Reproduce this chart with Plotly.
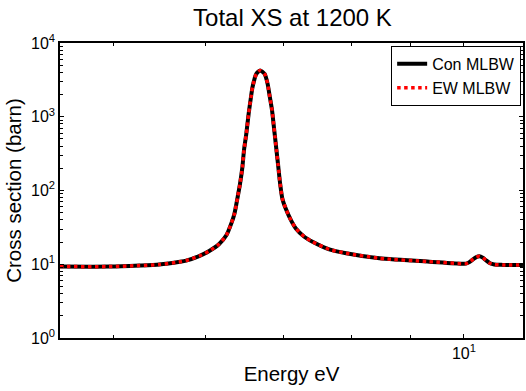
import plotly.graph_objects as go

# Energy (eV) and total cross section (barn)
energy = [4.494, 4.96, 5.26, 5.47, 5.70, 5.77, 5.92, 6.04, 6.16, 6.25, 6.31, 6.35,
          6.39, 6.42, 6.45, 6.47, 6.50, 6.53, 6.56, 6.58, 6.63, 6.68, 6.74, 6.78,
          6.81, 6.84, 6.86, 6.88, 6.90, 6.92, 6.95, 6.98, 7.03, 7.10, 7.17, 7.29,
          7.41, 7.66, 7.92, 8.46, 9.34, 10.04, 10.10, 10.17, 10.24, 10.31, 10.38,
          10.44, 10.53, 10.62, 10.80, 11.24]
xs_con = [9.3, 9.3, 9.6, 9.9, 10.8, 11.2, 12.9, 15.1, 18.8, 24.9, 35.8, 48.9,
          82, 124, 208, 350, 589, 1098, 1841, 2512, 3811, 4250, 3811, 2792,
          1841, 1217, 804, 530, 350, 232, 124, 78, 56, 39.7, 30.6, 23.6,
          20.2, 15.9, 14.1, 12.05, 10.85, 10.2, 10.6, 11.5, 12.4, 12.8, 12.3,
          11.4, 10.3, 9.9, 9.8, 9.75]
xs_ew = list(xs_con)

y_tickvals = [1, 10, 100, 1000, 10000]
y_ticktext = ["10<sup>0</sup>", "10<sup>1</sup>", "10<sup>2</sup>", "10<sup>3</sup>", "10<sup>4</sup>"]
y_minor = [m * d for d in [1, 10, 100, 1000] for m in range(2, 10)]
x_tickvals = [10]
x_ticktext = ["10<sup>1</sup>"]
x_minor = [5, 6, 7, 8, 9]

FONT = "Liberation Sans, Arial, sans-serif"

fig = go.Figure()
fig.add_trace(go.Scatter(x=energy, y=xs_con, mode="lines", name="Con MLBW",
                         line=dict(color="black", width=4, shape="spline", smoothing=0.6)))
fig.add_trace(go.Scatter(x=energy, y=xs_ew, mode="lines", name="EW MLBW",
                         line=dict(color="red", width=3.5, dash="dot", shape="spline", smoothing=0.6)))

axis_common = dict(showgrid=False, zeroline=False, showline=True, linecolor="black",
                   linewidth=1.5, mirror="ticks", ticks="inside", tickcolor="black",
                   tickfont=dict(family=FONT, size=16, color="black"))

fig.update_layout(
    width=526, height=391,
    margin=dict(l=60, r=1, t=42.5, b=52.7),
    paper_bgcolor="white", plot_bgcolor="white",
    font=dict(family=FONT, color="black"),
    title=dict(text="Total XS at 1200 K", font=dict(family=FONT, size=24, color="black"),
               x=0.556, xanchor="center", y=1 - 18 / 391, yanchor="middle"),
    xaxis=dict(type="log", range=[0.65273, 1.0508], tickmode="array",
               tickvals=x_tickvals, ticktext=x_ticktext, ticklen=4, tickwidth=1,
               minor=dict(tickmode="array", tickvals=x_minor, ticks="inside", ticklen=3,
                          tickcolor="black", tickwidth=1),
               title=dict(text="Energy eV", font=dict(family=FONT, size=20.5, color="black"),
                          standoff=6),
               **axis_common),
    yaxis=dict(type="log", range=[0, 4], tickmode="array",
               tickvals=y_tickvals, ticktext=y_ticktext, ticklen=4, tickwidth=1,
               minor=dict(tickmode="array", tickvals=y_minor, ticks="inside", ticklen=3,
                          tickcolor="black", tickwidth=1),
               title=dict(text="Cross section (barn)", font=dict(family=FONT, size=20.5, color="black"),
                          standoff=4),
               **axis_common),
    legend=dict(x=0.996, y=0.99, xanchor="right", yanchor="top",
                bgcolor="white", bordercolor="black", borderwidth=1,
                font=dict(family=FONT, size=16, color="black"),
                itemwidth=30, tracegroupgap=0),
    showlegend=True,
)

fig.write_html("out.html")
